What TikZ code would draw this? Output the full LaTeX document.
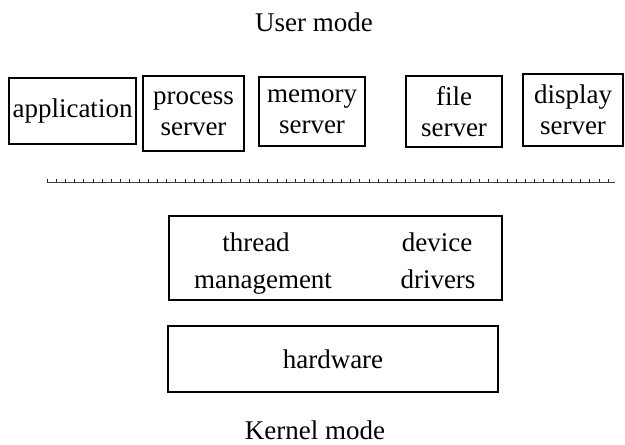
\documentclass[tikz,border=0pt]{standalone}
\usepackage{fontspec}
\setmainfont{Liberation Serif}
\usetikzlibrary{calc}
\begin{document}
\begin{tikzpicture}[x=1pt,y=-1pt,
  box/.style={draw,line width=1.4pt,rectangle,inner sep=0pt,align=center,
    font=\fontsize{27}{31}\selectfont},
  lbl/.style={inner sep=0pt,anchor=base,font=\fontsize{27}{31}\selectfont},
  title/.style={inner sep=0pt,anchor=base,font=\fontsize{27}{30}\selectfont}]
\useasboundingbox (0,0) rectangle (625,445);
\node[title] (user) at (314,31) {User mode};
\node[title] (kern) at (315,439) {Kernel mode};
\node[box,minimum width=127pt,minimum height=66pt] (app) at (72.5,111) {application};
\node[box,minimum width=101pt,minimum height=75pt] (proc) at (193.5,113.5) {process\\server};
\node[box,minimum width=106pt,minimum height=69pt] (mem) at (312,111.5) {memory\\server};
\node[box,minimum width=96pt,minimum height=71pt] (file) at (454,111.5) {file\\server};
\node[box,minimum width=100pt,minimum height=72pt] (disp) at (573,110) {display\\server};
\coordinate (sepL) at (47,182);
\coordinate (sepR) at (615,182);
\draw[line width=1pt,black!75] (sepL) -- (sepR);
\foreach \i in {0,...,61} \draw[line width=1pt,black!85] ($(sepL)+(\i*9.2,0)$) -- ++(0,-3.5);
\node[box,minimum width=333pt,minimum height=84pt] (kbox) at (335.5,258) {};
\node[lbl] (thr1) at (256,251) {thread};
\node[lbl] (thr2) at (263,288) {management};
\node[lbl] (dev1) at (437,251) {device};
\node[lbl] (dev2) at (438,288) {drivers};
\node[box,minimum width=330pt,minimum height=66pt] (hw) at (333,359) {hardware};
\end{tikzpicture}
\end{document}
